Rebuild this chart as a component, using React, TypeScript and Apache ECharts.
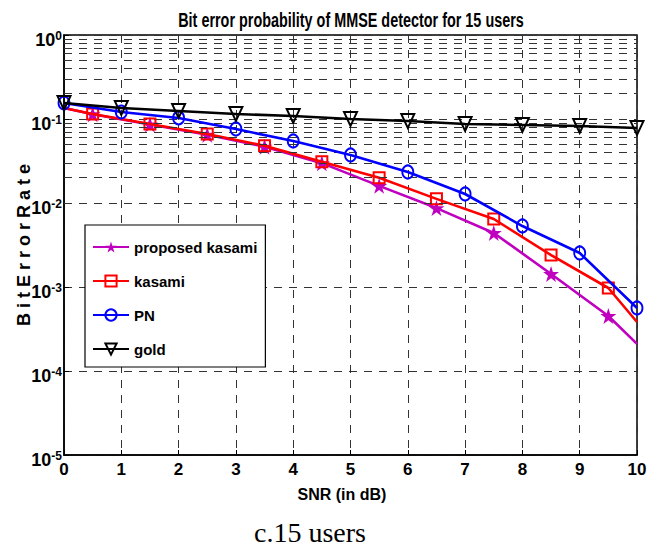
import React, { useEffect, useRef } from "react";
import * as echarts from "echarts";

const FONT = "'Liberation Sans', Arial, sans-serif";
const SERIF = "'Liberation Serif', 'Times New Roman', serif";

const chartTitle = "Bit error probability of MMSE detector for 15 users";
const xAxisName = "SNR (in dB)";
const yAxisName = "B i t E r r o r R a t e";
const caption = "c.15 users";

const seriesNames = ["proposed kasami", "kasami", "PN", "gold"];

// SNR points (dB)
const snrInteger = [0, 1, 2, 3, 4, 5, 6, 7, 8, 9, 10];
const snrHalf = [0, 0.5, 1.5, 2.5, 3.5, 4.5, 5.5, 6.5, 7.5, 8.5, 9.5, 10];

// BER values
const proposedKasamiBer = [0.135, 0.114, 0.086, 0.065, 0.0468, 0.0298, 0.016, 0.0087, 0.0044, 0.00143, 0.000452, 0.00021];
const kasamiBer = [0.135, 0.1147, 0.0872, 0.0663, 0.048, 0.031, 0.02, 0.0112, 0.00645, 0.0024, 0.000973, 0.000383];
const pnBer = [0.155, 0.121, 0.103, 0.076, 0.0547, 0.0373, 0.0234, 0.0128, 0.00532, 0.00254, 0.000562];
const goldBer = [0.155, 0.135, 0.1245, 0.1147, 0.1086, 0.1, 0.0947, 0.0872, 0.0849, 0.0826, 0.0781];

// axis range / minor grid
const yMin = 1e-5;
const yMax = 1;
const decadeExponents = [-5, -4, -3, -2, -1];
const minorMultipliers = [2, 3, 4, 5, 6, 7, 8, 9];

const STAR = "path://M50,0 L61.2,34.5 L97.6,34.5 L68.2,55.9 L79.4,90.5 L50,69.1 L20.6,90.5 L31.8,55.9 L2.4,34.5 L38.8,34.5 Z";
const TRI_DOWN = "path://M0,0 L10,0 L5,10 Z";

function halfData(ys: number[]) {
  return snrHalf.map((x, i) => {
    const item: any = { value: [x, ys[i]] };
    if (i === 0 || i === snrHalf.length - 1) item.symbol = "none";
    return item;
  });
}

export default function App() {
  const ref = useRef<HTMLDivElement>(null);
  useEffect(() => {
    if (!ref.current) return;
    const chart = echarts.init(ref.current, undefined, { renderer: "svg" });
    const minorValues: number[] = [];
    decadeExponents.forEach((e) => minorMultipliers.forEach((m) => minorValues.push(m * Math.pow(10, e))));
    const gridDash = { type: [8, 7] as any, color: "#333", width: 1 };

    chart.setOption({
      animation: false,
      backgroundColor: "#fff",
      graphic: [
        {
          type: "text",
          x: 351,
          y: 20,
          scaleX: 0.8,
          scaleY: 1.15,
          style: {
            text: chartTitle,
            font: `bold 18px ${FONT}`,
            fill: "#000",
            align: "center",
            verticalAlign: "middle",
          },
        },
        {
          type: "text",
          x: 310,
          y: 532,
          style: {
            text: caption,
            font: `28px ${SERIF}`,
            fill: "#000",
            align: "center",
            verticalAlign: "middle",
          },
        },
      ],
      grid: {
        left: 64,
        right: 13,
        top: 35,
        bottom: 103,
        containLabel: false,
        outerBoundsMode: "none",
        show: true,
        borderColor: "#000",
        borderWidth: 1.5,
        backgroundColor: "#fff",
      },
      legend: {
        data: seriesNames,
        orient: "vertical",
        left: 85,
        top: 225,
        backgroundColor: "#fff",
        borderColor: "#000",
        borderWidth: 1.2,
        borderRadius: 0,
        padding: [12, 8, 8, 7],
        itemWidth: 36,
        itemHeight: 14,
        itemGap: 14,
        textStyle: { fontFamily: FONT, fontWeight: "bold", fontSize: 15, color: "#000", lineHeight: 20 },
      },
      xAxis: {
        type: "value",
        min: 0,
        max: 10,
        interval: 1,
        name: xAxisName,
        nameLocation: "middle",
        nameGap: 31,
        nameTextStyle: { fontFamily: FONT, fontWeight: "bold", fontSize: 16, color: "#000", padding: [0, 17, 0, 0] },
        axisLine: { show: true, lineStyle: { color: "#000", width: 1.5 } },
        axisTick: { inside: true, length: 5, lineStyle: { color: "#000" } },
        axisLabel: { fontFamily: FONT, fontWeight: "bold", fontSize: 17, color: "#000", margin: 6 },
        splitLine: { show: true, lineStyle: gridDash },
      },
      yAxis: {
        type: "log",
        logBase: 10,
        min: yMin,
        max: yMax,
        name: yAxisName,
        nameLocation: "middle",
        nameGap: 31,
        nameMoveOverlap: false,
        nameTextStyle: { fontFamily: FONT, fontWeight: "bold", fontSize: 18, color: "#000" },
        axisLine: { show: true, lineStyle: { color: "#000", width: 1.5 } },
        axisTick: { inside: true, length: 5, lineStyle: { color: "#000" } },
        axisLabel: {
          margin: 2,
          formatter: (v: number) => `{b|10}{s|${Math.round(Math.log10(v))}}`,
          rich: {
            b: { fontFamily: FONT, fontWeight: "bold", fontSize: 18, color: "#000", lineHeight: 19, verticalAlign: "bottom" },
            s: {
              fontFamily: FONT,
              fontWeight: "bold",
              fontSize: 12,
              color: "#000",
              lineHeight: 12,
              verticalAlign: "top",
              padding: [0, 0, 16, 0],
            },
          },
          padding: [9, 0, 0, 0],
        },
        splitLine: { show: true, lineStyle: gridDash },
      },
      series: [
        {
          name: "minor-grid",
          type: "line",
          z: 1,
          data: [[0, yMin]],
          symbol: "none",
          lineStyle: { opacity: 0 },
          silent: true,
          markLine: {
            silent: true,
            symbol: ["none", "none"],
            label: { show: false },
            lineStyle: gridDash,
            data: minorValues.map((v) => ({ yAxis: v })),
          },
        },
        {
          name: seriesNames[0],
          type: "line",
          z: 3,
          data: halfData(proposedKasamiBer),
          symbol: STAR,
          symbolSize: 16,
          lineStyle: { color: "#BF00BF", width: 2.6 },
          itemStyle: { color: "#BF00BF" },
        },
        {
          name: seriesNames[1],
          type: "line",
          z: 4,
          data: halfData(kasamiBer),
          symbol: "rect",
          symbolSize: 11,
          lineStyle: { color: "#FF0000", width: 2.6 },
          itemStyle: { color: "rgba(0,0,0,0)", borderColor: "#FF0000", borderWidth: 2 },
        },
        {
          name: seriesNames[2],
          type: "line",
          z: 5,
          data: snrInteger.map((x, i) => [x, pnBer[i]]),
          symbol: "circle",
          symbolSize: [11, 13],
          lineStyle: { color: "#0000FF", width: 2.6 },
          itemStyle: { color: "rgba(0,0,0,0)", borderColor: "#0000FF", borderWidth: 2 },
        },
        {
          name: seriesNames[3],
          type: "line",
          z: 6,
          data: snrInteger.map((x, i) => [x, goldBer[i]]),
          symbol: TRI_DOWN,
          symbolSize: [13, 14],
          lineStyle: { color: "#000000", width: 2.6 },
          itemStyle: { color: "rgba(0,0,0,0)", borderColor: "#000000", borderWidth: 2 },
        },
      ],
    });
    return () => chart.dispose();
  }, []);
  return <div ref={ref} style={{ width: 650, height: 558, position: "absolute", left: 0, top: 0 }} />;
}
